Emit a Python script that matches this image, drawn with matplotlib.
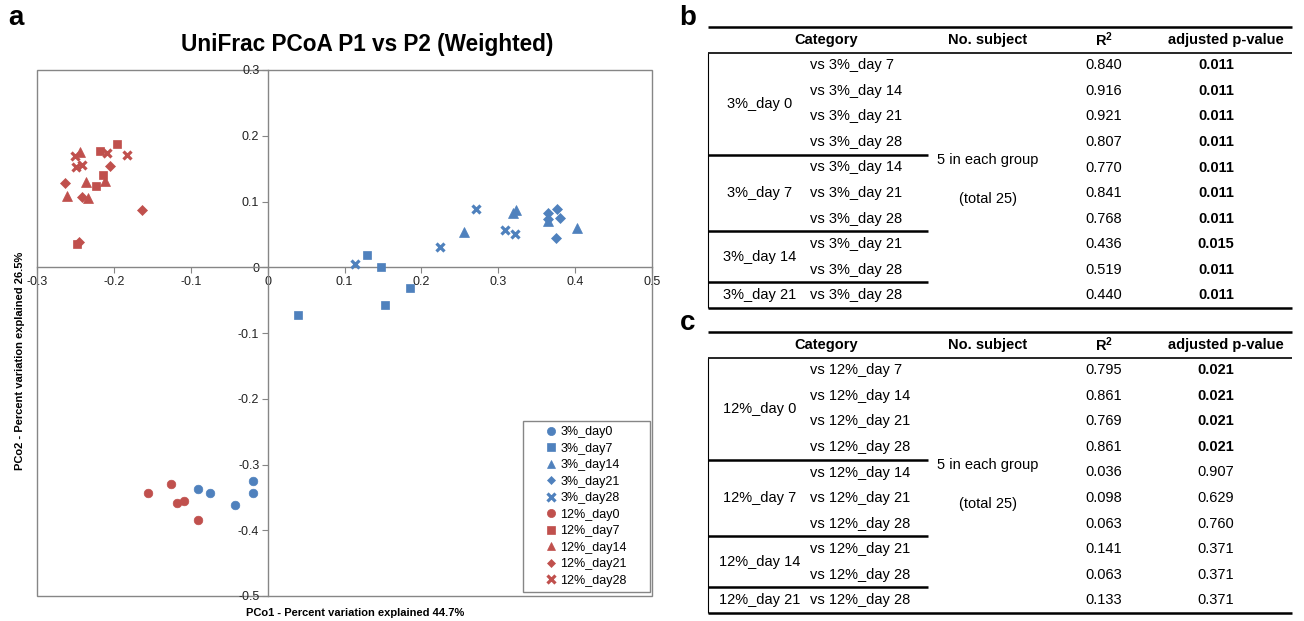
import numpy as np
import matplotlib
matplotlib.use("Agg")
import matplotlib.pyplot as plt
from matplotlib.patches import Rectangle
from matplotlib.ticker import FuncFormatter

plt.rcParams['font.family'] = ['Liberation Sans', 'DejaVu Sans']
plt.rcParams['mathtext.fontset'] = 'custom'
plt.rcParams['mathtext.rm'] = 'Liberation Sans'
plt.rcParams['mathtext.bf'] = 'Liberation Sans:bold'

BLUE = '#4F81BD'
RED = '#C0504D'
GRAY = '#868686'

# ---- panel a: PCoA coordinates (P1, P2) ----
x_3_day0 = [-0.090, -0.075, -0.043, -0.019, -0.019]
y_3_day0 = [-0.337, -0.344, -0.362, -0.325, -0.343]
x_3_day7 = [0.129, 0.147, 0.185, 0.153, 0.039]
y_3_day7 = [0.019, 0.001, -0.031, -0.058, -0.073]
x_3_day14 = [0.255, 0.319, 0.323, 0.365, 0.402]
y_3_day14 = [0.054, 0.083, 0.087, 0.070, 0.059]
x_3_day21 = [0.365, 0.377, 0.380, 0.375, 0.365]
y_3_day21 = [0.083, 0.089, 0.075, 0.044, 0.074]
x_3_day28 = [0.114, 0.224, 0.271, 0.309, 0.322]
y_3_day28 = [0.005, 0.031, 0.088, 0.056, 0.051]

x_12_day0 = [-0.156, -0.126, -0.118, -0.109, -0.091]
y_12_day0 = [-0.343, -0.329, -0.358, -0.355, -0.385]
x_12_day7 = [-0.196, -0.218, -0.214, -0.223, -0.248]
y_12_day7 = [0.188, 0.177, 0.141, 0.123, 0.036]
x_12_day14 = [-0.244, -0.236, -0.211, -0.261, -0.234]
y_12_day14 = [0.176, 0.130, 0.131, 0.108, 0.105]
x_12_day21 = [-0.205, -0.263, -0.241, -0.163, -0.246]
y_12_day21 = [0.154, 0.128, 0.107, 0.087, 0.039]
x_12_day28 = [-0.251, -0.209, -0.183, -0.249, -0.241]
y_12_day28 = [0.169, 0.174, 0.170, 0.153, 0.155]

series = [
    ('3%_day0', x_3_day0, y_3_day0, BLUE, 'o'),
    ('3%_day7', x_3_day7, y_3_day7, BLUE, 's'),
    ('3%_day14', x_3_day14, y_3_day14, BLUE, '^'),
    ('3%_day21', x_3_day21, y_3_day21, BLUE, 'D'),
    ('3%_day28', x_3_day28, y_3_day28, BLUE, 'x'),
    ('12%_day0', x_12_day0, y_12_day0, RED, 'o'),
    ('12%_day7', x_12_day7, y_12_day7, RED, 's'),
    ('12%_day14', x_12_day14, y_12_day14, RED, '^'),
    ('12%_day21', x_12_day21, y_12_day21, RED, 'D'),
    ('12%_day28', x_12_day28, y_12_day28, RED, 'x'),
]
marker_size = {'o': 6.2, 's': 6.0, '^': 6.6, 'D': 4.6, 'x': 6.2}

# ---- panels b and c: PERMANOVA tables ----
header = ['Category', 'No. subject', r'$\mathbf{R^2}$', 'adjusted p-value']
subject_text = ['5 in each group', '(total 25)']

b_groups = ['3%_day 0', '3%_day 7', '3%_day 14', '3%_day 21']
b_group_sizes = [4, 3, 2, 1]
b_versus = ['vs 3%_day 7', 'vs 3%_day 14', 'vs 3%_day 21', 'vs 3%_day 28',
            'vs 3%_day 14', 'vs 3%_day 21', 'vs 3%_day 28',
            'vs 3%_day 21', 'vs 3%_day 28', 'vs 3%_day 28']
b_r2 = ['0.840', '0.916', '0.921', '0.807', '0.770', '0.841', '0.768',
        '0.436', '0.519', '0.440']
b_p = ['0.011', '0.011', '0.011', '0.011', '0.011', '0.011', '0.011',
       '0.015', '0.011', '0.011']

c_groups = ['12%_day 0', '12%_day 7', '12%_day 14', '12%_day 21']
c_group_sizes = [4, 3, 2, 1]
c_versus = ['vs 12%_day 7', 'vs 12%_day 14', 'vs 12%_day 21', 'vs 12%_day 28',
            'vs 12%_day 14', 'vs 12%_day 21', 'vs 12%_day 28',
            'vs 12%_day 21', 'vs 12%_day 28', 'vs 12%_day 28']
c_r2 = ['0.795', '0.861', '0.769', '0.861', '0.036', '0.098', '0.063',
        '0.141', '0.063', '0.133']
c_p = ['0.021', '0.021', '0.021', '0.021', '0.907', '0.629', '0.760',
       '0.371', '0.371', '0.371']

W, H = 1304, 621
fig = plt.figure(figsize=(W / 100, H / 100), dpi=100)


def px_rect(x0, y0, x1, y1):
    # pixel box (top-left origin) -> figure fraction rect
    return [x0 / W, 1 - y1 / H, (x1 - x0) / W, (y1 - y0) / H]


# ---------------- panel a ----------------
ax = fig.add_axes(px_rect(37, 70, 652, 596))
ax.set_xlim(-0.3, 0.5)
ax.set_ylim(-0.5, 0.3)
for name, xs, ys, col, mk in series:
    kw = dict(mew=2.3, color=col) if mk == 'x' else dict(mfc=col, mec=col, mew=0.5)
    ax.plot(xs, ys, ls='none', marker=mk, ms=marker_size[mk], label=name,
            zorder=3, clip_on=False, **kw)

ax.spines['left'].set_position(('data', 0))
ax.spines['bottom'].set_position(('data', 0))
ax.spines['top'].set_visible(False)
ax.spines['right'].set_visible(False)
for s in ('left', 'bottom'):
    ax.spines[s].set_color(GRAY)
    ax.spines[s].set_linewidth(1.0)
ax.add_patch(Rectangle((0, 0), 1, 1, transform=ax.transAxes, fill=False,
                       ec=GRAY, lw=1.0, clip_on=False, zorder=1))
ax.set_xticks(np.round(np.arange(-0.3, 0.51, 0.1), 1))
ax.set_yticks(np.round(np.arange(-0.5, 0.31, 0.1), 1))
fmt = FuncFormatter(lambda v, p: '0' if abs(v) < 1e-9 else f'{v:.1f}')
ax.xaxis.set_major_formatter(fmt)
ax.yaxis.set_major_formatter(fmt)
ax.tick_params(direction='out', length=4, width=0.8, color=GRAY,
               labelsize=9, labelcolor='#222222', pad=2)

handles, labels = ax.get_legend_handles_labels()
leg_box = (0.790, 0.0076, 0.9967, 0.3327)
ax.add_patch(Rectangle((leg_box[0], leg_box[1]), leg_box[2] - leg_box[0],
                       leg_box[3] - leg_box[1], transform=ax.transAxes,
                       fc='white', ec=GRAY, lw=1.0, zorder=4))
leg = ax.legend(handles, labels, loc='center',
                bbox_to_anchor=((leg_box[0] + leg_box[2]) / 2,
                                (leg_box[1] + leg_box[3]) / 2),
                frameon=False, fontsize=9, labelspacing=0.36,
                handlelength=0.8, handletextpad=0.35, borderpad=0.1,
                markerscale=0.95)
leg.set_zorder(5)

fig.text(355 / W, 1 - 613 / H, 'PCo1 - Percent variation explained 44.7%',
         ha='center', va='center', fontsize=8, fontweight='bold')
fig.text(20 / W, 1 - 361 / H, 'PCo2 - Percent variation explained 26.5%',
         ha='center', va='center', fontsize=8, fontweight='bold', rotation=90)
fig.text(367 / W, 1 - 44 / H, 'UniFrac PCoA P1 vs P2 (Weighted)',
         ha='center', va='center', fontsize=16.3, fontweight='bold')
fig.text(16 / W, 1 - 18 / H, 'a', ha='center', va='center', fontsize=20,
         fontweight='bold')


# ---------------- panels b, c ----------------
def draw_table(top, letter, groups, sizes, versus, r2, pvals, bold_p):
    tw = 584
    tb = fig.add_axes(px_rect(708, top, 708 + tw, top + 281))
    tb.set_xlim(0, tw)
    tb.set_ylim(10.5, -0.5)
    tb.axis('off')
    fs = 10.5
    lw_k = dict(color='black', clip_on=False, solid_capstyle='butt')
    tb.plot([0, tw], [-0.5, -0.5], lw=1.8, **lw_k)
    tb.plot([0, tw], [0.5, 0.5], lw=1.2, **lw_k)
    tb.plot([0, tw], [10.5, 10.5], lw=1.8, **lw_k)
    tb.plot([0, 0], [0.5, 10.5], lw=0.8, **lw_k)
    tb.text(118, 0, header[0], ha='center', va='center', fontsize=fs,
            fontweight='bold')
    tb.text(280, 0, header[1], ha='center', va='center', fontsize=fs,
            fontweight='bold')
    tb.text(396, 0, header[2], ha='center', va='center', fontsize=fs)
    tb.text(518, 0, header[3], ha='center', va='center', fontsize=fs,
            fontweight='bold')
    start = 1
    for g, n in zip(groups, sizes):
        tb.text(52, start + (n - 1) / 2, g, ha='center', va='center', fontsize=fs)
        end = start + n - 1
        if end < len(versus):
            tb.plot([0, 220], [end + 0.5, end + 0.5], lw=1.8, **lw_k)
        start = end + 1
    for i, (v, r, p) in enumerate(zip(versus, r2, pvals)):
        row = i + 1
        tb.text(102, row, v, ha='left', va='center', fontsize=fs)
        tb.text(396, row, r, ha='center', va='center', fontsize=fs)
        tb.text(508, row, p, ha='center', va='center', fontsize=fs,
                fontweight='bold' if bold_p[i] else 'normal')
    tb.text(280, 4.69, subject_text[0], ha='center', va='center', fontsize=fs)
    tb.text(280, 6.25, subject_text[1], ha='center', va='center', fontsize=fs)
    fig.text(688 / W, 1 - (top - 9) / H, letter, ha='center', va='center',
             fontsize=20, fontweight='bold')


draw_table(27, 'b', b_groups, b_group_sizes, b_versus, b_r2, b_p,
           [True] * 10)
draw_table(332, 'c', c_groups, c_group_sizes, c_versus, c_r2, c_p,
           [True] * 4 + [False] * 6)

fig.savefig('out.png', dpi=100)
